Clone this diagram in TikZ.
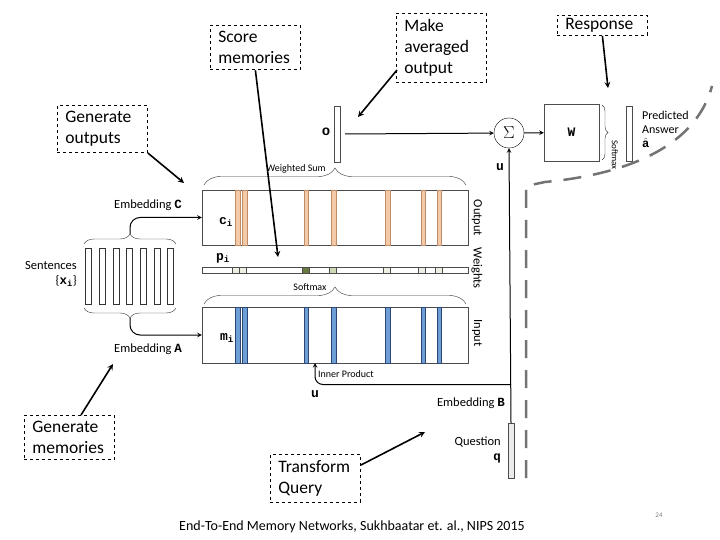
\documentclass[tikz,border=0pt]{standalone}
\usepackage{fontspec}
\setmainfont{Carlito}
\newfontfamily\varfont{Liberation Mono}
\usetikzlibrary{decorations.pathreplacing}
\definecolor{peach}{RGB}{244,201,166}
\definecolor{peachedge}{RGB}{190,140,105}
\definecolor{cornflower}{RGB}{110,158,214}
\definecolor{navyedge}{RGB}{45,70,115}
\definecolor{wdark}{RGB}{104,124,66}
\definecolor{wmid}{RGB}{205,216,180}
\definecolor{wlight}{RGB}{236,240,228}
\newcommand{\memvar}[1]{{\varfont\bfseries #1}}
\tikzset{
	note/.style={draw, dashed, thick, align=left, anchor=north west, text width=74pt, inner xsep=8pt, inner ysep=6pt, font=\fontsize{17.5}{21}\selectfont},
	pointer/.style={->, >=stealth, line width=1.6pt},
	flow/.style={->, >=stealth, line width=1pt},
	memory/.style={draw=black!70, fill=white, minimum width=266pt, inner sep=0pt},
	vec/.style={draw=black!70, fill=white, minimum width=6pt, inner sep=0pt},
	lab/.style={font=\fontsize{12.5}{15}\selectfont, inner sep=1pt},
	tiny/.style={font=\fontsize{10}{11}\selectfont, inner sep=1pt},
	hbrace/.style={decorate, decoration={brace, amplitude=#1}, black!80}
}
\begin{document}
\begin{tikzpicture}[x=1pt, y=-1pt]
	\useasboundingbox (0,0) rectangle (720,540);
	% annotations
	\draw (210,25) node[note] (score) {Score\\ memories};
	\draw (396,13) node[note] (average) {Make\\ averaged\\ output};
	\draw (557,15) node[note, inner ysep=3pt] (response) {Response};
	\draw (57,105) node[note] (genout) {Generate\\ outputs};
	\draw (24,415) node[note] (genmem) {Generate\\ memories};
	\draw (270,454) node[note] (transform) {Transform\\ Query};
	% memory blocks
	\draw (335,217.5) node[memory, minimum height=55pt] (outmem) {};
	\foreach \sx in {235.5,242.5,304,331.5,385.5,421,437}
		\filldraw[fill=peach, draw=peachedge] (\sx,190) rectangle ++(4.5,55);
	\draw (335,270) node[memory, minimum height=6pt] (weights) {};
	\foreach \cx/\cc in {231.7/wlight, 239/wlight, 301.7/wdark, 329.3/wmid, 383.3/wlight, 418.3/wlight, 435/wlight}
		\filldraw[fill=\cc, draw=black!70] (\cx,267) rectangle ++(7,6);
	\draw (335,335) node[memory, minimum height=56pt] (inmem) {};
	\foreach \sx in {235.5,242.5,304,331.5,385.5,421,437}
		\filldraw[fill=cornflower, draw=navyedge] (\sx,307) rectangle ++(4.5,56);
	\draw (226,222) node[font=\fontsize{13}{13}\selectfont] (clab) {\memvar{c}\textsubscript{\memvar{i}}};
	\draw (223,258) node[font=\fontsize{13}{13}\selectfont] (plab) {\memvar{p}\textsubscript{\memvar{i}}};
	\draw (227,338) node[font=\fontsize{13}{13}\selectfont] (mlab) {\memvar{m}\textsubscript{\memvar{i}}};
	\draw (477,218) node[lab, rotate=-90] (outtxt) {Output};
	\draw (477,268) node[lab, rotate=-90] (wtxt) {Weights};
	\draw (477,333) node[lab, rotate=-90] (intxt) {Input};
	\draw[hbrace=17pt] (204,185) -- (466,185);
	\draw (296,169) node[tiny] (wsum) {Weighted Sum};
	\draw[hbrace=17pt] (204,304) -- (466,304);
	\draw (310,287) node[tiny] (softin) {Softmax};
	% sentences
	\foreach \i in {0,...,6}
		\draw[black!80] ({85.3+13.7*\i},248) rectangle ++(6,56);
	\draw[hbrace=10pt] (84,244) -- (176,244);
	\draw[hbrace=10pt] (176,308) -- (84,308);
	\coordinate (senttop) at (130,234);
	\coordinate (sentbot) at (130,318);
	\draw (78,274) node[lab, anchor=east, align=right] (sent) {Sentences\\ \{\memvar{x}\textsubscript{\memvar{i}}\}};
	\draw (148,205) node[lab] (embc) {Embedding \memvar{C}};
	\draw (148,349) node[lab] (emba) {Embedding \memvar{A}};
	\draw[flow, rounded corners=10pt] (senttop) |- (outmem.west);
	\draw[flow, rounded corners=10pt] (sentbot) |- (inmem.west);
	% output side
	\draw (337,134) node[vec, minimum height=56pt] (ovec) {};
	\draw (326,132) node[font=\fontsize{14}{14}\selectfont] (olab) {\memvar{o}};
	\draw (509,133) node[draw, circle, minimum size=30pt, inner sep=0pt, font=\fontsize{16}{16}\selectfont] (sigma) {$\Sigma$};
	\draw (571.5,132.5) node[draw=black!70, minimum width=55pt, minimum height=57pt, font=\fontsize{13}{13}\selectfont] (wbox) {\memvar{W}};
	\draw (629,133.5) node[vec, minimum height=55pt] (answer) {};
	\draw[hbrace=6pt] (602,105) -- (602,160);
	\draw (615,155) node[font=\fontsize{9}{9}\selectfont, rotate=-90, inner sep=1pt] (softw) {Softmax};
	\draw (641,110) node[anchor=north west, align=left, font=\fontsize{12}{14}\selectfont, inner sep=1pt] (pred) {Predicted\\ Answer\\ $\hat{\mbox{\memvar{a}}}$};
	\draw (500,167) node[font=\fontsize{13}{13}\selectfont] (ulab) {\memvar{u}};
	\draw[flow] ([xshift=5pt]ovec.east) -- (sigma);
	\draw[flow] (sigma) -- (wbox);
	% question side
	\draw (511,450.5) node[vec, fill=black!8, minimum height=55pt] (qvec) {};
	\draw (502,450) node[lab, anchor=east, align=right] (question) {Question\\ \memvar{q}};
	\draw (506,403) node[lab, anchor=east] (embb) {Embedding \memvar{B}};
	\draw[flow] (qvec.north) -- (sigma.south);
	\coordinate (ubranch) at (511,384.5);
	\coordinate (innerpt) at (315,363);
	\draw[flow, rounded corners=8pt] (ubranch) -| (innerpt);
	\draw (317,374) node[tiny, anchor=west] (inner) {Inner Product};
	\draw (315,394) node[font=\fontsize{13}{13}\selectfont] (ulow) {\memvar{u}};
	% dashed grey boundary
	\draw[black!55, line width=2.5pt, dash pattern=on 18pt off 12pt] (526,478) -- (526,186) -- (545,182) .. controls (620,175) and (695,150) .. (712,86);
	% pointers from annotations
	\coordinate (scoretip) at (278,257);
	\coordinate (avgtail) at (397,70);
	\coordinate (avgtip) at (358,117);
	\coordinate (resptip) at (608,88);
	\coordinate (outtip) at (184,183);
	\coordinate (memtail) at (81,415);
	\coordinate (memtip) at (113,364);
	\coordinate (tqtail) at (361,465);
	\coordinate (tqtip) at (425,432);
	\draw[pointer] (score.south) -- (scoretip);
	\draw[pointer] (avgtail) -- (avgtip);
	\draw[pointer] (response.south) -- (resptip);
	\draw[pointer] (genout.south east) -- (outtip);
	\draw[pointer] (memtail) -- (memtip);
	\draw[pointer] (tqtail) -- (tqtip);
	% footer
	\draw (352,527) node[font=\fontsize{14}{14}\selectfont] (cite) {End-To-End Memory Networks, Sukhbaatar et. al., NIPS 2015};
	\draw (659,515) node[font=\fontsize{7}{7}\selectfont, text=black!50] (page) {24};
\end{tikzpicture}
\end{document}
